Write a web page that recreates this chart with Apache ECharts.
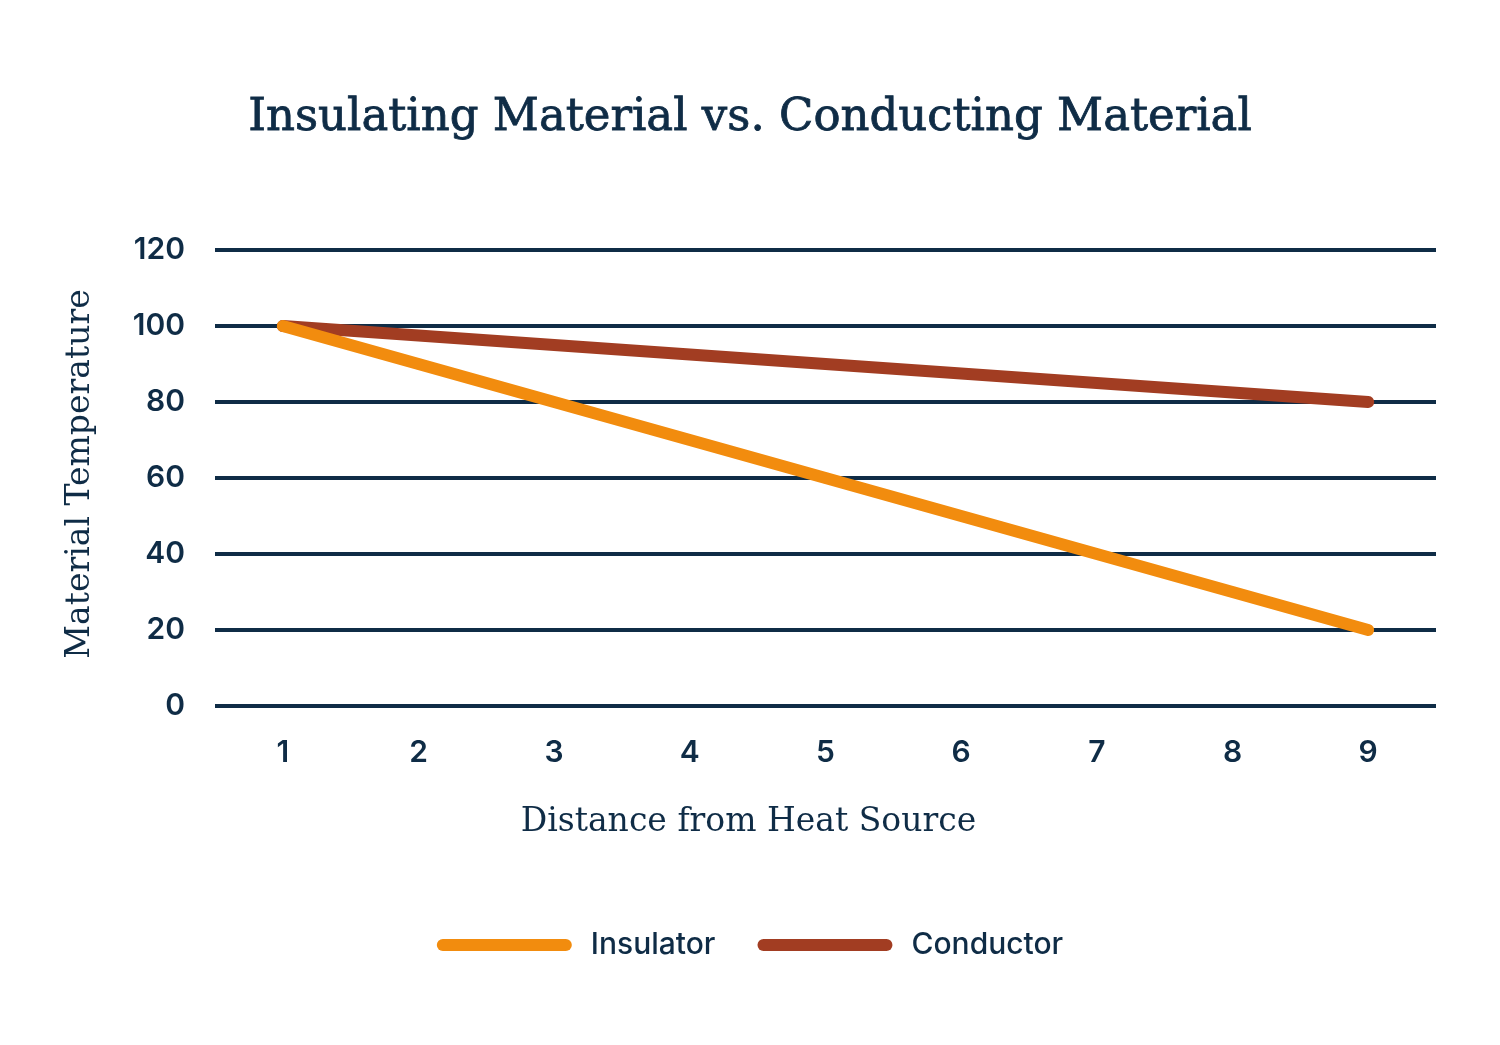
<!DOCTYPE html>
<html><head><meta charset="utf-8">
<script src="https://cdn.jsdelivr.net/npm/echarts@6/dist/echarts.min.js"></script>
<style>html,body{margin:0;padding:0;background:#fff}#c{width:1500px;height:1045px}</style>
</head><body><div id="c"></div>
<script>
const categories = ['1','2','3','4','5','6','7','8','9'];
const insulator = [100, 90, 80, 70, 60, 50, 40, 30, 20];
const conductor = [100, 97.5, 95, 92.5, 90, 87.5, 85, 82.5, 80];
const navy = '#0f2c46';
const chart = echarts.init(document.getElementById('c'));
chart.setOption({
  backgroundColor: '#ffffff',
  animation: false,
  title: {
    text: 'Insulating Material vs. Conducting Material',
    left: 'center', top: 91,
    textStyle: { fontFamily: 'DejaVu Serif', fontWeight: 'normal', fontSize: 45, color: navy,
                 textBorderColor: navy, textBorderWidth: 0.8 }
  },
  grid: { left: 215, right: 64, top: 250, bottom: 339, containLabel: false },
  legend: {
    data: ['Insulator', 'Conductor'],
    bottom: 80, left: 'center',
    itemWidth: 135, itemHeight: 12, itemGap: 42,
    icon: 'path://M6,0 H129 A6,6 0 0 1 129,12 H6 A6,6 0 0 1 6,0 Z',
    textStyle: { fontFamily: 'Inter', fontSize: 30, fontWeight: 500, color: navy, padding: [0, 0, 0, 14] }
  },
  xAxis: {
    type: 'category', data: categories, boundaryGap: true,
    name: 'Distance from Heat Source', nameLocation: 'middle', nameGap: 100,
    nameTextStyle: { fontFamily: 'DejaVu Serif', fontSize: 33, color: navy, padding: [0, 154, 0, 0] },
    axisLine: { show: false }, axisTick: { show: false },
    axisLabel: { fontFamily: 'Inter', fontSize: 30, color: navy, margin: 32, fontWeight: 600 }
  },
  yAxis: {
    type: 'value', min: 0, max: 120, interval: 20,
    name: 'Material Temperature', nameLocation: 'middle', nameGap: 118,
    nameTextStyle: { fontFamily: 'DejaVu Serif', fontSize: 33, color: navy, padding: [0, 0, 0, 8] },
    axisLine: { show: false }, axisTick: { show: false },
    axisLabel: { fontFamily: 'Inter', fontSize: 30, color: navy, margin: 30, fontWeight: 600 },
    splitLine: { lineStyle: { color: navy, width: 4 } }
  },
  series: [
    { name: 'Conductor', type: 'line', data: conductor, showSymbol: false, symbol: 'none',
      lineStyle: { color: '#a23d22', width: 12, cap: 'round', join: 'round' }, itemStyle: { color: '#a23d22' } },
    { name: 'Insulator', type: 'line', data: insulator, showSymbol: false, symbol: 'none',
      lineStyle: { color: '#f28c0e', width: 12, cap: 'round', join: 'round' }, itemStyle: { color: '#f28c0e' } }
  ]
});
</script></body></html>
